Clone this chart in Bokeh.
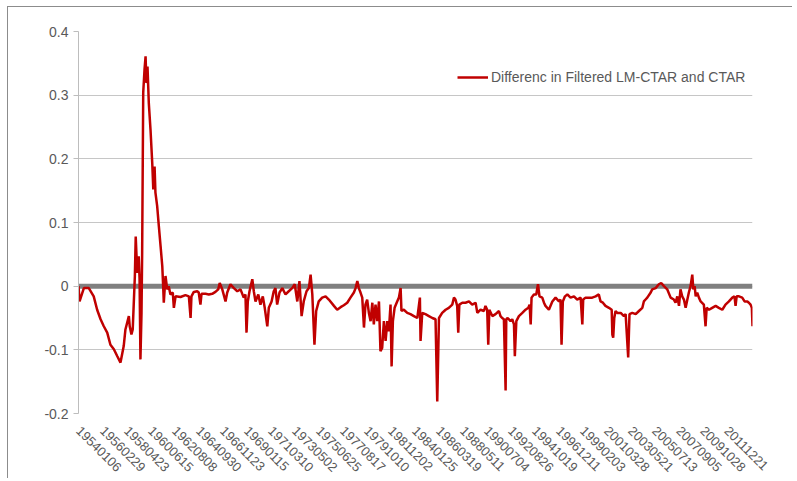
import math
from bokeh.plotting import figure
from bokeh.models import (Range1d, FixedTicker, CustomJSTickFormatter, Span,
                          Legend, LegendItem, ColumnDataSource)
from bokeh.embed import file_html
from bokeh.resources import INLINE

# ---- data (weekly observations, index = weeks since 1954-01-06) ----
weeks_a = [0, 5, 25, 48, 71, 87, 103, 118, 134, 149,
           165, 181, 196, 211, 219, 235, 239, 247, 253, 263,
           267, 274, 281, 285, 289, 294, 297, 302, 308, 313,
           317, 322, 328, 336, 344, 349, 355, 359, 367, 375,
           383, 391, 395, 398, 406, 414, 421, 429, 440, 445]
diff_a = [0.000, -0.024, -0.003, -0.003, -0.016, -0.037, -0.052, -0.063, -0.073, -0.092,
          -0.099, -0.110, -0.120, -0.094, -0.068, -0.047, -0.063, -0.076, -0.068, 0.016,
          0.078, 0.021, 0.047, 0.011, -0.115, -0.042, 0.052, 0.304, 0.340, 0.361,
          0.319, 0.345, 0.288, 0.246, 0.194, 0.152, 0.188, 0.147, 0.126, 0.094,
          0.063, 0.031, 0.000, -0.026, 0.016, -0.005, 0.000, -0.013, -0.010, -0.034]

weeks_b = [453, 476, 499, 515, 523, 527, 538, 554, 561, 569,
           574, 593, 608, 624, 639, 652, 659, 671, 686, 694,
           709, 725, 741, 756, 771, 779, 784, 790, 798, 811,
           818, 826, 839, 849, 860, 869, 881, 888, 901, 911,
           919, 927, 938, 951, 966, 981, 997, 1009, 1021, 1031,
           1041, 1051, 1064, 1075, 1083, 1091, 1101, 1109, 1121, 1137,
           1153, 1168]
diff_b = [-0.016, -0.017, -0.014, -0.016, -0.050, -0.016, -0.009, -0.008, -0.010, -0.029,
          -0.012, -0.012, -0.013, -0.012, -0.009, -0.005, 0.005, -0.005, -0.024, -0.010,
          0.003, -0.003, -0.008, -0.005, -0.018, -0.013, -0.073, -0.024, -0.008, 0.011,
          -0.008, -0.024, -0.013, -0.029, -0.016, -0.034, -0.063, -0.034, -0.024, -0.008,
          -0.003, -0.029, -0.010, -0.003, -0.013, -0.008, -0.003, 0.003, -0.024, 0.008,
          -0.047, -0.024, -0.008, -0.003, 0.018, -0.013, -0.092, -0.039, -0.024, -0.018,
          -0.016, -0.021]

weeks_c = [1192, 1207, 1223, 1238, 1254, 1269, 1285, 1293, 1301, 1308,
           1316, 1324, 1332, 1339, 1347, 1355, 1363, 1371, 1378, 1386,
           1394, 1402, 1409, 1417, 1425, 1433, 1441, 1448, 1456, 1461,
           1467, 1475, 1487, 1495, 1503, 1507, 1518, 1534, 1549, 1565,
           1581, 1593, 1596, 1604, 1619, 1635, 1651, 1666, 1674, 1682,
           1697, 1713, 1728, 1744, 1752, 1759, 1767, 1772, 1777, 1791,
           1806, 1822, 1837, 1853, 1861, 1876, 1892, 1899, 1907, 1912,
           1917]
diff_c = [-0.031, -0.037, -0.033, -0.030, -0.026, -0.018, -0.010, -0.003, 0.008, -0.003,
          -0.010, -0.018, -0.065, -0.029, -0.021, -0.042, -0.055, -0.026, -0.060, -0.029,
          -0.055, -0.024, -0.102, -0.097, -0.055, -0.086, -0.055, -0.071, -0.029, -0.126,
          -0.055, -0.034, -0.024, -0.018, -0.003, -0.039, -0.037, -0.042, -0.044, -0.047,
          -0.050, -0.018, -0.086, -0.042, -0.044, -0.047, -0.050, -0.052, -0.181, -0.050,
          -0.042, -0.037, -0.034, -0.029, -0.018, -0.021, -0.031, -0.073, -0.029, -0.026,
          -0.026, -0.024, -0.029, -0.026, -0.042, -0.037, -0.039, -0.031, -0.037, -0.092,
          -0.037]

weeks_d = [1931, 1946, 1962, 1969, 1977, 1985, 1993, 1996, 2001, 2008,
           2016, 2024, 2032, 2036, 2043, 2055, 2071, 2086, 2099, 2105,
           2110, 2114, 2125, 2136, 2144, 2151, 2164, 2172, 2179, 2195,
           2211, 2226, 2242, 2249, 2254, 2260, 2270, 2281, 2296, 2312,
           2327, 2343, 2351, 2355, 2366, 2382, 2397, 2413, 2428, 2436,
           2447, 2459, 2475, 2488, 2491, 2495, 2500, 2506, 2514, 2530,
           2545, 2553, 2565, 2571, 2584, 2600, 2615]
diff_d = [-0.047, -0.044, -0.039, -0.047, -0.050, -0.052, -0.164, -0.052, -0.050, -0.052,
          -0.055, -0.052, -0.060, -0.110, -0.055, -0.047, -0.042, -0.037, -0.034, -0.029,
          -0.060, -0.018, -0.013, -0.013, 0.003, -0.016, -0.018, -0.026, -0.031, -0.037,
          -0.024, -0.018, -0.024, -0.021, -0.092, -0.024, -0.016, -0.013, -0.018, -0.016,
          -0.021, -0.018, -0.060, -0.021, -0.018, -0.018, -0.018, -0.016, -0.013, -0.024,
          -0.026, -0.031, -0.034, -0.037, -0.076, -0.081, -0.050, -0.039, -0.042, -0.042,
          -0.047, -0.044, -0.112, -0.044, -0.042, -0.044, -0.039]

weeks_e = [2631, 2638, 2646, 2654, 2670, 2677, 2693, 2708, 2719, 2732,
           2747, 2763, 2778, 2786, 2794, 2802, 2809, 2817, 2825, 2833,
           2841, 2848, 2856, 2864, 2869, 2875, 2880, 2887, 2895, 2903,
           2918, 2926, 2931, 2942, 2957, 2973, 2988, 3004, 3019, 3035,
           3051, 3061, 3066, 3071, 3082, 3097, 3108, 3121, 3128, 3136,
           3142, 3145]
diff_e = [-0.034, -0.024, -0.021, -0.018, -0.010, -0.005, -0.003, 0.003, 0.005, 0.000,
          -0.005, -0.018, -0.021, -0.026, -0.016, -0.031, -0.005, -0.016, -0.021, -0.034,
          -0.021, -0.010, 0.000, 0.018, -0.005, 0.000, -0.016, -0.010, -0.018, -0.024,
          -0.029, -0.063, -0.034, -0.037, -0.034, -0.031, -0.034, -0.037, -0.029, -0.024,
          -0.018, -0.016, -0.031, -0.016, -0.016, -0.018, -0.024, -0.024, -0.026, -0.029,
          -0.034, -0.063]

tick_labels = ["19540106", "19560229", "19580423", "19600615", "19620808", "19640930",
               "19661123", "19690115", "19710310", "19730502", "19750625", "19770817",
               "19791010", "19811202", "19840125", "19860319", "19880511", "19900704",
               "19920826", "19941019", "19961211", "19990203", "20010328", "20030521",
               "20050713", "20070905", "20091028", "20111221"]
label_step = 112          # weeks between shown category labels
n_weeks = 3145
y_ticks = [-0.2, -0.1, 0.0, 0.1, 0.2, 0.3, 0.4]
series_name = "Differenc in Filtered LM-CTAR and CTAR"

weeks = weeks_a + weeks_b + weeks_c + weeks_d + weeks_e
diff = diff_a + diff_b + diff_c + diff_d + diff_e

# ---- figure ----
FONT = "Liberation Sans"
TXT = "#595959"
p = figure(frame_width=674, frame_height=382, output_backend="svg", toolbar_location=None,
           x_range=Range1d(0, n_weeks), y_range=Range1d(-0.2, 0.4),
           min_border_left=70, min_border_right=40, min_border_top=24, min_border_bottom=62)
p.styles = {"margin-left": "7px", "margin-top": "6px",
            "border-top": "1px solid #8c8c8c", "border-left": "1px solid #8c8c8c"}
p.outline_line_color = None
p.background_fill_color = "white"
p.border_fill_color = "white"

p.xgrid.visible = False
p.ygrid.grid_line_color = "#c6c6c6"
p.ygrid.grid_line_width = 1

zero = Span(location=0, dimension="width", line_color="#808080", line_width=5, level="underlay")
p.add_layout(zero)

src = ColumnDataSource(dict(x=weeks, y=diff))
r = p.line("x", "y", source=src, line_color="#c00000", line_width=2.5)

# y axis
p.yaxis.ticker = FixedTicker(ticks=y_ticks)
p.yaxis.formatter = CustomJSTickFormatter(code="return Math.abs(tick) < 1e-9 ? '0' : tick.toFixed(1);")
p.yaxis.axis_line_color = "#bdbdbd"
p.yaxis.major_tick_line_color = "#bdbdbd"
p.yaxis.major_tick_out = 5
p.yaxis.major_tick_in = 0
p.yaxis.minor_tick_line_color = None
p.yaxis.major_label_standoff = 5
p.yaxis.major_label_text_font = FONT
p.yaxis.major_label_text_font_size = "14px"
p.yaxis.major_label_text_color = TXT

# x axis
p.xaxis.ticker = FixedTicker(ticks=[i * label_step for i in range(len(tick_labels))])
p.xaxis.formatter = CustomJSTickFormatter(args=dict(labels=tick_labels, step=label_step),
                                          code="return labels[Math.round(tick/step)];")
p.xaxis.axis_line_color = None
p.xaxis.major_tick_line_color = None
p.xaxis.minor_tick_line_color = None
p.xaxis.major_label_orientation = -math.pi / 4
p.xaxis.major_label_standoff = 9
p.xaxis.major_label_text_font = FONT
p.xaxis.major_label_text_font_size = "13px"
p.xaxis.major_label_text_color = TXT

legend = Legend(items=[LegendItem(label=series_name, renderers=[r])],
                location=(379, 328), padding=0, margin=0, spacing=0,
                glyph_width=31, glyph_height=16, label_standoff=3,
                label_text_font=FONT, label_text_font_size="14px",
                label_text_color=TXT, border_line_color=None,
                background_fill_alpha=0)
p.add_layout(legend)

open("out.html", "w").write(file_html(p, INLINE))
